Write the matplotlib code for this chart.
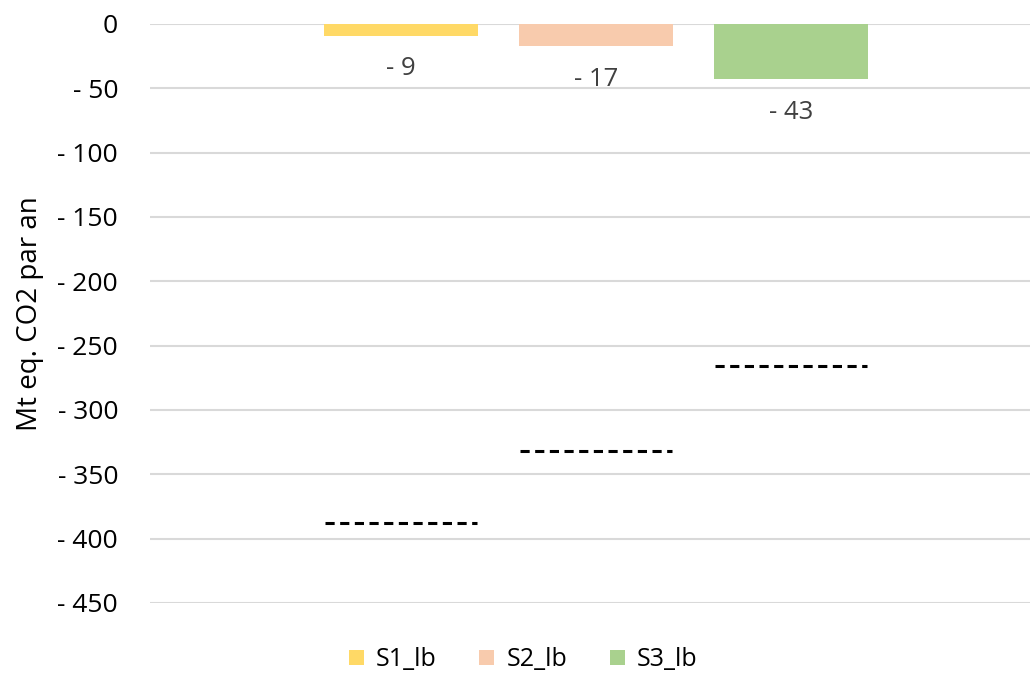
import numpy as np
from matplotlib import pyplot as plt
from matplotlib.patches import Patch
from matplotlib.ticker import FuncFormatter, MultipleLocator

series = ["S1_lb", "S2_lb", "S3_lb"]
values = [-9, -17, -43]
targets = [-388, -332, -266]
colors = ["#FFD966", "#F8CBAD", "#A9D18E"]

plt.rcParams["font.family"] = ["Open Sans", "DejaVu Sans"]

fig = plt.figure(figsize=(10.30, 6.76), dpi=100)
ax = fig.add_axes([0.1456, 0.108, 0.8544, 0.8565])

x = np.arange(len(series))
ax.bar(x, values, width=0.79, color=colors, zorder=2)

# dashed target lines
for xi, t in zip(x, targets):
    ax.plot([xi - 0.39, xi + 0.39], [t, t], color="black", lw=2.2,
            dashes=(3.0, 1.8), zorder=3)

# data labels below each bar
for xi, v in zip(x, values):
    ax.annotate(f"- {abs(v)}", (xi, v), xytext=(0, -24), textcoords="offset points",
                ha="center", va="center", fontsize=18.5, color="#404040")

ax.set_ylim(-450, 0)
ax.set_xlim(-1.287, 3.226)
ax.yaxis.set_major_locator(MultipleLocator(50))
ax.yaxis.set_major_formatter(FuncFormatter(lambda v, p: "0" if v == 0 else f"- {abs(int(v))}"))
ax.tick_params(axis="y", length=0, pad=23, labelsize=19, labelcolor="black")
ax.set_xticks([])
ax.grid(axis="y", color="#d9d9d9", lw=1.5, zorder=0)
for s in ax.spines.values():
    s.set_visible(False)
ax.set_ylabel("Mt eq. CO2 par an", fontsize=20, labelpad=10)

handles = [Patch(facecolor=c, label=s) for s, c in zip(series, colors)]
fig.legend(handles=handles, loc="center", bbox_to_anchor=(0.508, 0.024), ncol=3,
           frameon=False, fontsize=18, handlelength=0.6, handleheight=0.6,
           handletextpad=0.48, columnspacing=1.72)

fig.savefig("out.png", dpi=100)
